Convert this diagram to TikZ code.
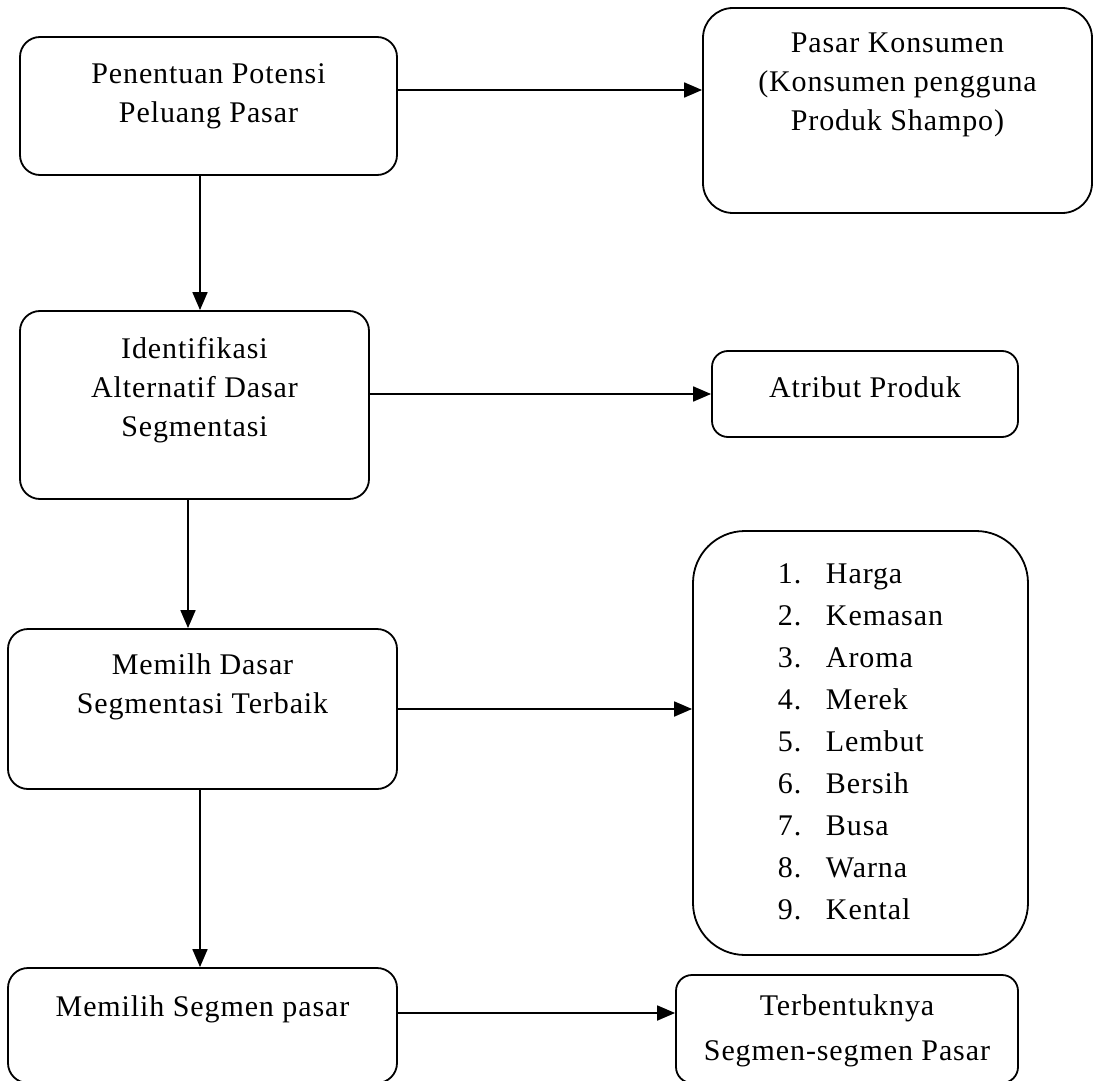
\documentclass[tikz,border=0pt]{standalone}
\usepackage{fontspec}
\setmainfont[LetterSpace=3]{Liberation Serif}
\usetikzlibrary{arrows.meta,positioning}

\tikzset{
  box/.style={draw,line width=0.9pt,rounded corners=#1,inner sep=0pt},
  box/.default=10pt,
  txt/.style={inner sep=0pt,align=center,font=\fontsize{15}{19.5}\selectfont},
  arr/.style={line width=0.9pt,-{Triangle[length=9pt,width=7.5pt]}}
}

\begin{document}
\begin{tikzpicture}[x=0.5pt,y=-0.5pt]
  \useasboundingbox (0,0) rectangle (1093,1081);

% left column: the four steps
  \node[box,minimum width=188.5pt,minimum height=69pt]   (potensi)      at (208.5,106)  {};
  \node[box,minimum width=174.5pt,minimum height=94pt]   (identifikasi) at (194.5,405)  {};
  \node[box,minimum width=194.5pt,minimum height=80pt]   (terbaik)      at (202.5,709)  {};
  \node[box,minimum width=194.5pt,minimum height=57.5pt] (segmen)       at (202.5,1025.5) {};

% right column: results of each step
  \node[box=15pt,minimum width=194.5pt,minimum height=102.5pt] (konsumen)  at (897.5,110.5) {};
  \node[box=8pt,minimum width=153pt,minimum height=43pt]       (atribut)   at (865,394)     {};
  \node[box=26pt,minimum width=167.5pt,minimum height=212pt,
        font=\fontsize{15}{21}\selectfont]                     (daftar)    at (860.5,743)
    {\begin{tabular}{@{}p{24pt}@{}l@{}}
      1. & Harga\\
      2. & Kemasan\\
      3. & Aroma\\
      4. & Merek\\
      5. & Lembut\\
      6. & Bersih\\
      7. & Busa\\
      8. & Warna\\
      9. & Kental
    \end{tabular}};
  \node[box=8pt,minimum width=171pt,minimum height=54pt]       (terbentuk) at (847,1029)    {};

% texts, set near the top of each box
  \node[txt,below=13.5pt of potensi.north]      (t-potensi)      {Penentuan Potensi\\Peluang Pasar};
  \node[txt,below=13.5pt of identifikasi.north] (t-identifikasi) {Identifikasi\\Alternatif Dasar\\Segmentasi};
  \node[txt,below=12.5pt of terbaik.north]      (t-terbaik)      {Memilh Dasar\\Segmentasi Terbaik};
  \node[txt,below=14pt of segmen.north]         (t-segmen)       {Memilih Segmen pasar};
  \node[txt,below=12.5pt of konsumen.north]     (t-konsumen)     {Pasar Konsumen\\(Konsumen pengguna\\Produk Shampo)};
  \node[txt,below=13pt of atribut.north]        (t-atribut)      {Atribut Produk};
  \node[txt,below=10pt of terbentuk.north]      (t-terbentuk)    {Terbentuknya\\[3pt]Segmen-segmen Pasar};

% connectors
  \draw[arr] ([yshift=8pt]potensi.east) -- ([yshift=8pt]potensi.east -| konsumen.west);
  \draw[arr] ([xshift=-4.25pt]potensi.south) -- ([xshift=-4.25pt]potensi.south |- identifikasi.north);
  \draw[arr] (identifikasi.east |- atribut.west) -- (atribut.west);
  \draw[arr] ([xshift=-3.25pt]identifikasi.south) -- ([xshift=-3.25pt]identifikasi.south |- terbaik.north);
  \draw[arr] (terbaik.east) -- (terbaik.east -| daftar.west);
  \draw[arr] ([xshift=-1.25pt]terbaik.south) -- ([xshift=-1.25pt]terbaik.south |- segmen.north);
  \draw[arr] ([yshift=6.25pt]segmen.east) -- ([yshift=6.25pt]segmen.east -| terbentuk.west);
\end{tikzpicture}
\end{document}
